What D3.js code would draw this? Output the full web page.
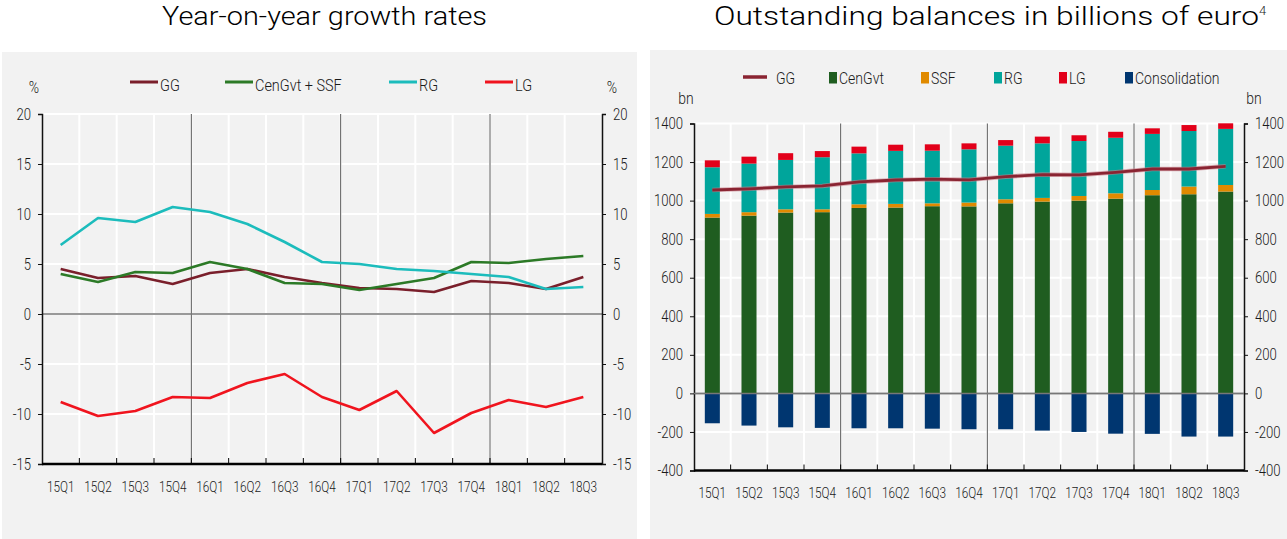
<!DOCTYPE html>
<html>
<head>
<meta charset="utf-8">
<script src="https://cdn.jsdelivr.net/npm/d3@7"></script>
<style>
  body { margin: 0; background: #fff; }
  svg { display: block; }
  text { font-family: Roboto, "Liberation Sans", Arial, sans-serif; font-weight: 300; fill: #1a1a1a; }
  .title { font-size: 26px; fill: #000; }
</style>
</head>
<body>
<svg id="chart" width="1287" height="539"></svg>
<script>
const quarters = ["15Q1","15Q2","15Q3","15Q4","16Q1","16Q2","16Q3","16Q4","17Q1","17Q2","17Q3","17Q4","18Q1","18Q2","18Q3"];

// left chart: year-on-year growth rates (%)
const ggRate = [4.5, 3.6, 3.8, 3.0, 4.1, 4.5, 3.7, 3.1, 2.6, 2.5, 2.2, 3.3, 3.1, 2.5, 3.7];
const cenSsfRate = [4.0, 3.2, 4.2, 4.1, 5.2, 4.5, 3.1, 3.0, 2.4, 3.0, 3.6, 5.2, 5.1, 5.5, 5.8];
const rgRate = [6.9, 9.6, 9.2, 10.7, 10.2, 9.0, 7.2, 5.2, 5.0, 4.5, 4.3, 4.0, 3.7, 2.5, 2.7];
const lgRate = [-8.8, -10.2, -9.7, -8.3, -8.4, -6.9, -6.0, -8.3, -9.6, -7.7, -11.9, -9.9, -8.6, -9.3, -8.3];
const rateTicks = [-15, -10, -5, 0, 5, 10, 15, 20];

// right chart: outstanding balances (bn euro)
const cenGvt = [912, 922, 938, 940, 962, 964, 971, 970, 986, 995, 1000, 1010, 1028, 1033, 1047];
const ssf = [19, 18, 17, 15, 19, 19, 15, 20, 21, 19, 24, 28, 27, 40, 34];
const rg = [242, 252, 256, 270, 264, 275, 273, 276, 278, 283, 285, 288, 291, 288, 291];
const lg = [36, 36, 35, 32, 35, 32, 33, 31, 29, 35, 30, 31, 29, 31, 29];
const consolidation = [-155, -167, -176, -179, -181, -181, -183, -186, -186, -193, -200, -209, -210, -224, -224];
const ggBal = [1055, 1061, 1071, 1076, 1097, 1107, 1111, 1108, 1124, 1135, 1133, 1147, 1164, 1164, 1178];
const balTicks = [-400, -200, 0, 200, 400, 600, 800, 1000, 1200, 1400];

const svg = d3.select("#chart");

// squeeze text horizontally, the source font is a narrow one
function condense(sel, f) {
  sel.each(function () {
    const w = this.getComputedTextLength();
    d3.select(this).attr("textLength", w * f).attr("lengthAdjust", "spacingAndGlyphs");
  });
}

// panels
svg.append("rect").attr("x", 2).attr("y", 52).attr("width", 635).attr("height", 487).attr("fill", "#f2f2f2");
svg.append("rect").attr("x", 650).attr("y", 50).attr("width", 637).attr("height", 489).attr("fill", "#f2f2f2");

svg.append("text").attr("class", "title").attr("x", 162).attr("y", 25)
  .attr("textLength", 325).attr("lengthAdjust", "spacingAndGlyphs")
  .text("Year-on-year growth rates");
svg.append("text").attr("class", "title").attr("x", 714).attr("y", 25)
  .attr("textLength", 545).attr("lengthAdjust", "spacingAndGlyphs")
  .text("Outstanding balances in billions of euro");
svg.append("text").attr("x", 1259).attr("y", 15).attr("font-size", "13px").attr("fill", "#000").text("4");

function frame(g, x, y, ticks, left, right, top, bottom, unit, unitY, xPad) {
  // grid
  g.selectAll(".hg").data(ticks).join("line")
    .attr("x1", left).attr("x2", right).attr("y1", d => y(d)).attr("y2", d => y(d))
    .attr("stroke", "#fff").attr("stroke-width", 2);
  const bounds = quarters.slice(1).map(q => x(q));
  g.selectAll(".vg").data(bounds).join("line")
    .attr("x1", d => d).attr("x2", d => d).attr("y1", top).attr("y2", bottom)
    .attr("stroke", "#fff").attr("stroke-width", 2);
  // year separators
  g.selectAll(".ys").data([x("16Q1"), x("17Q1"), x("18Q1")]).join("line")
    .attr("x1", d => d).attr("x2", d => d).attr("y1", top).attr("y2", bottom)
    .attr("stroke", "#5a5a5a").attr("stroke-width", 1);
  // zero line
  g.append("line").attr("x1", left).attr("x2", right).attr("y1", y(0)).attr("y2", y(0))
    .attr("stroke", "#777").attr("stroke-width", 1.5);

  const la = g.append("g").attr("transform", `translate(${left},0)`)
    .call(d3.axisLeft(y).tickValues(ticks).tickFormat(d => String(d)).tickSize(4).tickPadding(7));
  const ra = g.append("g").attr("transform", `translate(${right},0)`)
    .call(d3.axisRight(y).tickValues(ticks).tickFormat(d => String(d)).tickSize(4).tickPadding(7));
  [la, ra].forEach(a => {
    a.select(".domain").attr("stroke", "#111").attr("stroke-width", 1.5);
    a.selectAll("line").attr("stroke", "#111");
    a.selectAll("text").attr("font-size", "16px").attr("fill", "#1a1a1a").attr("font-family", null);
    condense(a.selectAll("text"), 0.82);
  });
  const ba = g.append("g").attr("transform", `translate(0,${bottom})`)
    .call(d3.axisBottom(x).tickSize(0).tickPadding(xPad));
  ba.select(".domain").remove();
  ba.selectAll("text").attr("font-size", "15.5px").attr("fill", "#1a1a1a").attr("font-family", null);
  condense(ba.selectAll("text"), 0.76);
  g.append("line").attr("x1", left).attr("x2", right).attr("y1", bottom).attr("y2", bottom)
    .attr("stroke", "#000").attr("stroke-width", 2.5);
  g.selectAll(".bt").data(bounds).join("line")
    .attr("x1", d => d).attr("x2", d => d).attr("y1", bottom).attr("y2", bottom - 6)
    .attr("stroke", "#000").attr("stroke-width", 1);

  const u1 = g.append("text").attr("x", left - 8).attr("y", unitY).attr("text-anchor", "middle")
    .attr("font-size", "16px").text(unit);
  const u2 = g.append("text").attr("x", right + 10).attr("y", unitY).attr("text-anchor", "middle")
    .attr("font-size", "16px").text(unit);
  condense(u1, 0.87);
  condense(u2, 0.87);
}

// ---- left chart
{
  const left = 42, right = 602, top = 114, bottom = 464;
  const x = d3.scaleBand().domain(quarters).range([left, right]);
  const y = d3.scaleLinear().domain([-15, 20]).range([bottom, top]);
  const g = svg.append("g");
  frame(g, x, y, rateTicks, left, right, top, bottom, "%", 93, 17);
  const cx = q => x(q) + x.bandwidth() / 2;
  const series = [
    { name: "GG", values: ggRate, color: "#7a1f2b", lx: 130 },
    { name: "CenGvt + SSF", values: cenSsfRate, color: "#2c7a27", lx: 225 },
    { name: "RG", values: rgRate, color: "#1cbcbc", lx: 389 },
    { name: "LG", values: lgRate, color: "#f0141e", lx: 485 }
  ];
  const line = d3.line().x((d, i) => cx(quarters[i])).y(d => y(d));
  series.forEach(s => {
    g.append("path").datum(s.values).attr("d", line).attr("fill", "none")
      .attr("stroke", s.color).attr("stroke-width", 2.6).attr("stroke-linejoin", "round");
    g.append("line").attr("x1", s.lx).attr("x2", s.lx + 28).attr("y1", 82).attr("y2", 82)
      .attr("stroke", s.color).attr("stroke-width", 3);
    const t = g.append("text").attr("x", s.lx + 30).attr("y", 90.5).attr("font-size", "17px").text(s.name);
    condense(t, 0.85);
  });
}

// ---- right chart
{
  const left = 694, right = 1244, top = 123.5, bottom = 470.5;
  const x = d3.scaleBand().domain(quarters).range([left, right]).paddingInner(0.59).paddingOuter(0.295);
  const xb = d3.scaleBand().domain(quarters).range([left, right]);
  const y = d3.scaleLinear().domain([-400, 1400]).range([bottom, top]);
  const g = svg.append("g");
  frame(g, xb, y, balTicks, left, right, top, bottom, "bn", 104, 16);

  const keys = ["CenGvt", "SSF", "RG", "LG"];
  const colors = { CenGvt: "#1f5d20", SSF: "#e08a00", RG: "#00a59b", LG: "#e2001a", Consolidation: "#003670" };
  const rows = quarters.map((q, i) => ({ q, CenGvt: cenGvt[i], SSF: ssf[i], RG: rg[i], LG: lg[i] }));
  const stack = d3.stack().keys(keys)(rows);
  stack.forEach(layer => {
    g.selectAll(null).data(layer).join("rect")
      .attr("x", d => x(d.data.q)).attr("width", x.bandwidth())
      .attr("y", d => y(d[1])).attr("height", d => y(d[0]) - y(d[1]))
      .attr("fill", colors[layer.key]);
  });
  g.selectAll(null).data(consolidation).join("rect")
    .attr("x", (d, i) => x(quarters[i])).attr("width", x.bandwidth())
    .attr("y", y(0)).attr("height", d => y(d) - y(0))
    .attr("fill", colors.Consolidation);
  // zero line over the bars
  g.append("line").attr("x1", left).attr("x2", right).attr("y1", y(0)).attr("y2", y(0))
    .attr("stroke", "#777").attr("stroke-width", 1.5);

  const line = d3.line().x((d, i) => xb(quarters[i]) + xb.bandwidth() / 2).y(d => y(d));
  g.append("path").datum(ggBal).attr("d", line).attr("fill", "none")
    .attr("stroke", "#c9808a").attr("stroke-width", 4.5).attr("opacity", 0.6);
  g.append("path").datum(ggBal).attr("d", line).attr("fill", "none")
    .attr("stroke", "#8a2432").attr("stroke-width", 2.8);

  // legend
  g.append("line").attr("x1", 743).attr("x2", 767).attr("y1", 77).attr("y2", 77)
    .attr("stroke", "#8a2432").attr("stroke-width", 3.5);
  condense(g.append("text").attr("x", 776).attr("y", 83.5).attr("font-size", "16.5px").text("GG"), 0.85);
  const leg = [["CenGvt", 829], ["SSF", 921], ["RG", 994], ["LG", 1059], ["Consolidation", 1125]];
  leg.forEach(([k, lx]) => {
    g.append("rect").attr("x", lx).attr("y", 72).attr("width", 8).attr("height", 11.5).attr("fill", colors[k]);
    const t = g.append("text").attr("x", lx + 10).attr("y", 83.5).attr("font-size", "16.5px").text(k);
    condense(t, 0.85);
  });
}
</script>
</body>
</html>
